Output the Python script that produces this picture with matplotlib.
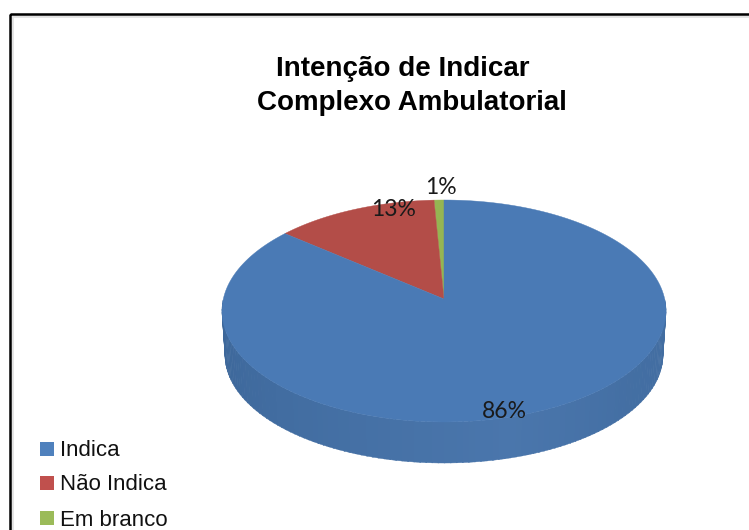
"""
Intencao de Indicar - Complexo Ambulatorial, 3D pie
"""
import numpy as np
import matplotlib.pyplot as plt
from matplotlib.patches import Rectangle

categories = ['Indica', 'Não Indica', 'Em branco']
values = [86, 13.2, 0.8]
colors = ['#4a7ab5', '#b34d48', '#95b552']
legend_colors = ['#4f81bd', '#c0504d', '#9bbb59']
title_lines = ['Intenção de Indicar', 'Complexo Ambulatorial']

W, H = 749, 530
cx, cy, rx, ry = 444, 311, 222, 111
apex_shift = 12 / 111
cx2, cy2, rx2, ry2 = 444, 355, 219, 108


# pie seen in perspective: angle from the top, going counterclockwise
def top_point(angle, radius=1.0):
    u = -radius * np.sin(angle)
    v = radius * np.cos(angle)
    d = 1 + apex_shift * v
    x = u * np.sqrt(1 - apex_shift ** 2) / d
    y = (v + apex_shift) / d
    return cx + rx * x, cy - ry * y


fig = plt.figure(figsize=(W / 100, H / 100), dpi=100)
ax = fig.add_axes([0, 0, 1, 1])
ax.set_xlim(0, W)
ax.set_ylim(H, 0)
ax.axis('off')

# frame
ax.add_patch(Rectangle((12, 15.5), W, H, fill=False, ec='#e2e2e2', lw=2))
ax.add_patch(Rectangle((10, 13.5), W, H, fill=False, ec='black', lw=1.8))

# side of the pie, drawn as strips
t = np.linspace(-np.pi / 2 - 0.1, np.pi / 2 + 0.1, 121)
for i in range(len(t) - 1):
    a = np.linspace(t[i], t[i + 1] + 0.005, 4)
    xs_top = cx + rx * np.sin(a)
    ys_top = cy + ry * np.cos(a)
    xs_bot = cx2 + rx2 * np.sin(a)
    ys_bot = cy2 + ry2 * np.cos(a)
    m = (t[i] + t[i + 1]) / 2
    if m < 0.3:
        shade = np.interp(m, [-1.7, -0.8, 0.3], [0.1, 0.5, 1])
    else:
        shade = np.interp(m, [0.3, 1.0, 1.7], [1, 0.6, 0.5])
    c = np.array([0x3a, 0x64, 0x96]) * (1 - shade) + np.array([0x4a, 0x76, 0xac]) * shade
    ax.fill(np.r_[xs_top, xs_bot[::-1]], np.r_[ys_top, ys_bot[::-1]],
            color=c / 255, lw=0.3)

# top of the pie
fractions = np.array(values) / sum(values)
stops = np.r_[0, np.cumsum(fractions[::-1])] * 2 * np.pi
slice_colors = colors[::-1]
for i in range(len(values)):
    ang = np.linspace(stops[i], stops[i + 1], 200)
    px, py = top_point(ang)
    ax0, ay0 = top_point(0.0, 0.0)
    ax.fill(np.r_[ax0, px], np.r_[ay0, py], color=slice_colors[i], lw=0.3)

# data labels
label_pos = [(504, 412), (394, 210), (441, 188)]
for v, pos in zip(values, label_pos):
    ax.text(pos[0], pos[1], f'{v:.0f}%', family='Lato', fontsize=16.5,
            color='#1a1a1a', ha='center', va='center')

# title
title_pos = [(403, 76), (412, 110)]
for line, pos in zip(title_lines, title_pos):
    ax.text(pos[0], pos[1], line, family='Liberation Sans', fontweight='bold',
            fontsize=20, color='black', ha='center', va='baseline')

# legend
legend_y = [449, 483, 518]
for name, c, y in zip(categories, legend_colors, legend_y):
    ax.add_patch(Rectangle((39.5, y - 7), 14, 14, fc=c, ec='none'))
    ax.text(59.5, y + 7.5, name, family='Liberation Sans', fontsize=16,
            color='#111111', ha='left', va='baseline')

fig.savefig('out.png', dpi=100)
